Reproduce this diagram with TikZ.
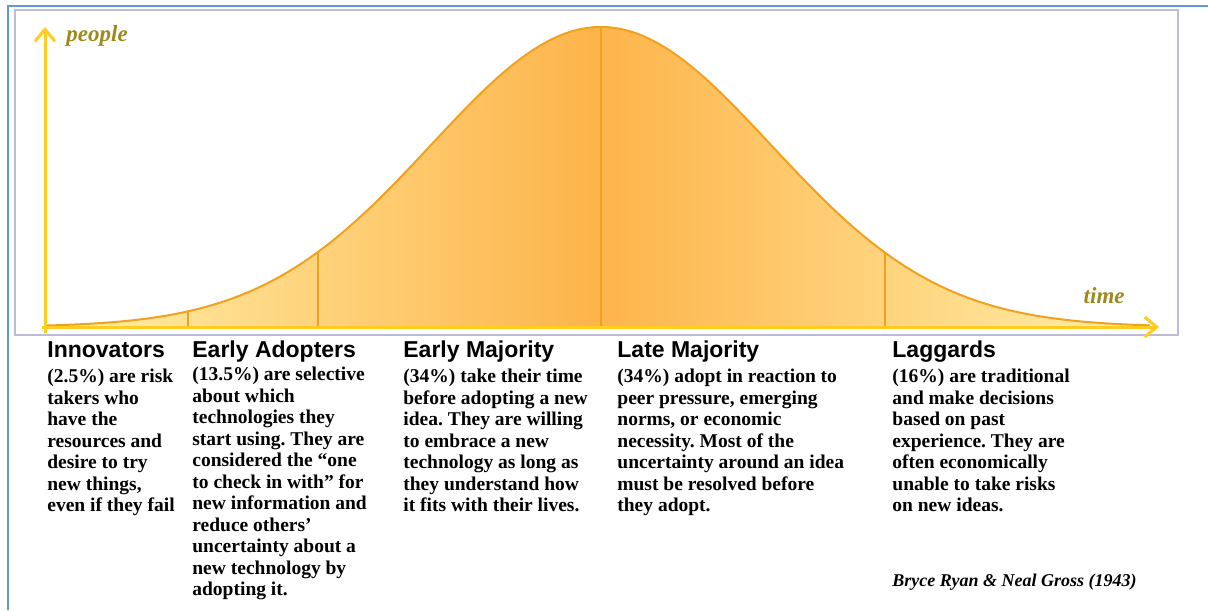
\documentclass[tikz,border=0pt]{standalone}
\usepackage{fontspec}
\usetikzlibrary{positioning,arrows.meta}
\newfontfamily\headfont{Liberation Sans}
\newfontfamily\bodyfont{Liberation Serif}
\definecolor{curveor}{HTML}{F2A11E}
\definecolor{fillmid}{HTML}{FDB44A}
\definecolor{filledge}{HTML}{FFF1AC}
\definecolor{axisyel}{HTML}{FFCC1F}
\definecolor{labelol}{HTML}{9E8A1C}
\definecolor{framelav}{HTML}{BEBBD8}
\definecolor{frameblue}{HTML}{5B9BD5}
\frenchspacing

\begin{document}
\begin{tikzpicture}[x=0.5pt,y=-0.5pt,
    axis/.style={draw=axisyel,line width=1.5pt,-{Straight Barb[length=6pt,width=10pt]}},
    divider/.style={draw=curveor,line width=1pt},
    head/.style={font=\headfont\bfseries\fontsize{11.5}{13}\selectfont,inner sep=0pt,anchor=base west},
    body/.style={font=\bodyfont\bfseries\fontsize{9.75}{10.75}\selectfont,align=left,inner sep=0pt},
    axlabel/.style={font=\bodyfont\bfseries\itshape\fontsize{11.5}{13}\selectfont,text=labelol,inner sep=0pt}]
  \useasboundingbox (0,0) rectangle (1208,610);
  \def\bell#1{327-300*exp(-((#1-601)/170)^2/2)}
  % frames
  \draw[frameblue,line width=1pt] (8,610) -- (8,6) -- (1208,6);
  \draw[framelav,line width=1.25pt] (15,10) rectangle (1178,335);
  % bell curve
  \shade[left color=filledge,right color=filledge,middle color=fillmid]
    plot[domain=45:1150,samples=160] (\x,{\bell{\x}}) -- (1150,327) -- (45,327) -- cycle;
  \foreach \d in {188,318,601,885}
    \draw[divider] (\d,327) -- (\d,{\bell{\d}});
  \draw[curveor,line width=1pt] plot[domain=45:1150,samples=160] (\x,{\bell{\x}});
  % axes
  \coordinate (o) at (45,333);
  \coordinate (ytip) at (45,27);
  \coordinate (xo) at (42,327);
  \coordinate (xtip) at (1159,327);
  \draw[axis] (o) -- (ytip);
  \draw[axis] (xo) -- (xtip);
  \node[axlabel,anchor=base west] (ppl) at (66,42) {people};
  \node[axlabel,anchor=base east] (tme) at (1125,303) {time};
  % categories
  \node[head] (inv) at (47,357) {Innovators};
  \node[head] (ead) at (192,357) {Early Adopters};
  \node[head] (emj) at (403,357) {Early Majority};
  \node[head] (lmj) at (617,357) {Late Majority};
  \node[head] (lag) at (892,357) {Laggards};
  \node[body,below=6pt of inv.base west,anchor=north west] (invtxt)
    {(2.5\%) are risk\\takers who\\have the\\resources and\\desire to try\\new things,\\even if they fail};
  \node[body,below=5pt of ead.base west,anchor=north west] (eadtxt)
    {(13.5\%) are selective\\about which\\technologies they\\start using. They are\\considered the “one\\to check in with” for\\new information and\\reduce others’\\uncertainty about a\\new technology by\\adopting it.};
  \node[body,below=6pt of emj.base west,anchor=north west] (emjtxt)
    {(34\%) take their time\\before adopting a new\\idea. They are willing\\to embrace a new\\technology as long as\\they understand how\\it fits with their lives.};
  \node[body,below=6pt of lmj.base west,anchor=north west] (lmjtxt)
    {(34\%) adopt in reaction to\\peer pressure, emerging\\norms, or economic\\necessity. Most of the\\uncertainty around an idea\\must be resolved before\\they adopt.};
  \node[body,below=6pt of lag.base west,anchor=north west] (lagtxt)
    {(16\%) are traditional\\and make decisions\\based on past\\experience. They are\\often economically\\unable to take risks\\on new ideas.};
  \node[font=\bodyfont\bfseries\itshape\fontsize{9}{11}\selectfont,inner sep=0pt,anchor=base west] (src)
    at (892,586) {Bryce Ryan \& Neal Gross (1943)};
\end{tikzpicture}
\end{document}
